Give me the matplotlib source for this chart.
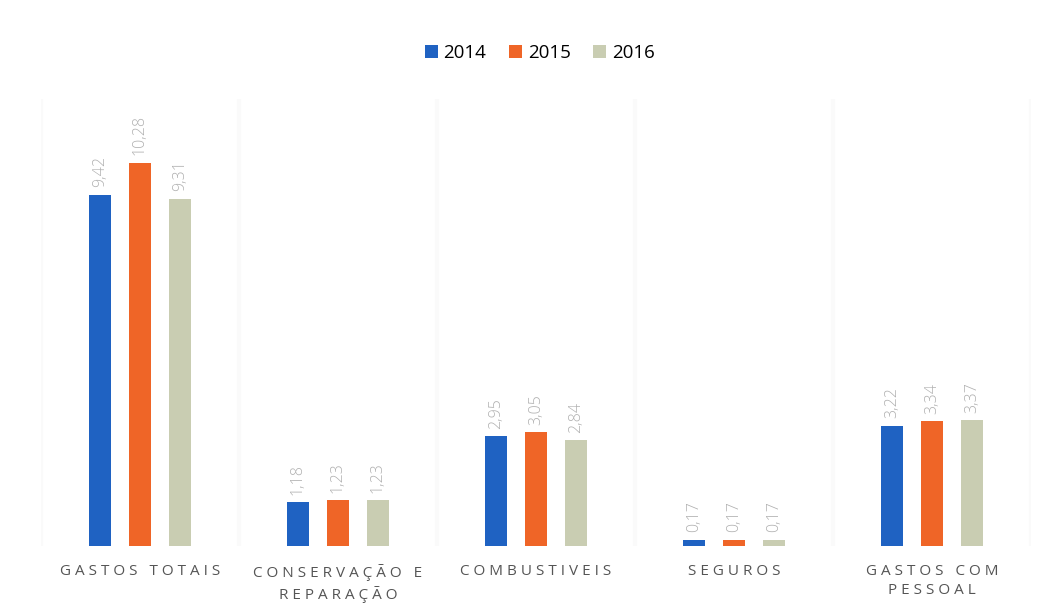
import numpy as np
import matplotlib.pyplot as plt

# Expense categories and yearly values (million)
categories = ['GASTOS TOTAIS', 'CONSERVAÇÃO E\nREPARAÇÃO', 'COMBUSTIVEIS', 'SEGUROS', 'GASTOS COM\nPESSOAL']
years = ['2014', '2015', '2016']
v2014 = [9.42, 1.18, 2.95, 0.17, 3.22]
v2015 = [10.28, 1.23, 3.05, 0.17, 3.34]
v2016 = [9.31, 1.23, 2.84, 0.17, 3.37]

colors = ['#1f62c2', '#ef6527', '#c9cdb2']
series = [v2014, v2015, v2016]

fig = plt.figure(figsize=(10.48, 6.07), dpi=100)
ax = fig.add_axes([0.039, 0.1005, 0.945, 0.737])

x = np.arange(len(categories))
width = 0.111
offset = 0.202

for i, (vals, year) in enumerate(zip(series, years)):
    pos = x + (i - 1) * offset
    ax.bar(pos, vals, width, color=colors[i], label=year, zorder=3)
    for px, v in zip(pos, vals):
        ax.text(px, v + 0.2, f'{v:.2f}'.replace('.', ','), rotation=90,
                ha='center', va='bottom', fontsize=11.5, color='#b0b0b0',
                family='Open Sans', fontweight='light')

# faint separators between groups
for b in np.arange(-0.5, len(categories) + 0.5, 1):
    ax.axvline(b, color='#fafafa', lw=3, zorder=0)

ax.set_xlim(-0.5, len(categories) - 0.5)
ax.set_ylim(0, 12)

def spaced(s):
    return '\n'.join(' '.join(line) for line in s.split('\n'))

ax.set_xticks(x)
ax.set_xticklabels([spaced(c) for c in categories], fontsize=11,
                   color='#555555', family='Open Sans', linespacing=1.35)
ax.tick_params(axis='x', length=0, pad=13)
ax.set_yticks([])
for s in ax.spines.values():
    s.set_visible(False)

fig.legend(loc='upper center', bbox_to_anchor=(0.515, 0.955), ncol=3,
           frameon=False, handlelength=0.7, handleheight=0.7,
           handletextpad=0.3, columnspacing=1.2,
           prop={'family': 'Open Sans', 'size': 13.5})

fig.savefig('out.png', dpi=100, facecolor='white')
